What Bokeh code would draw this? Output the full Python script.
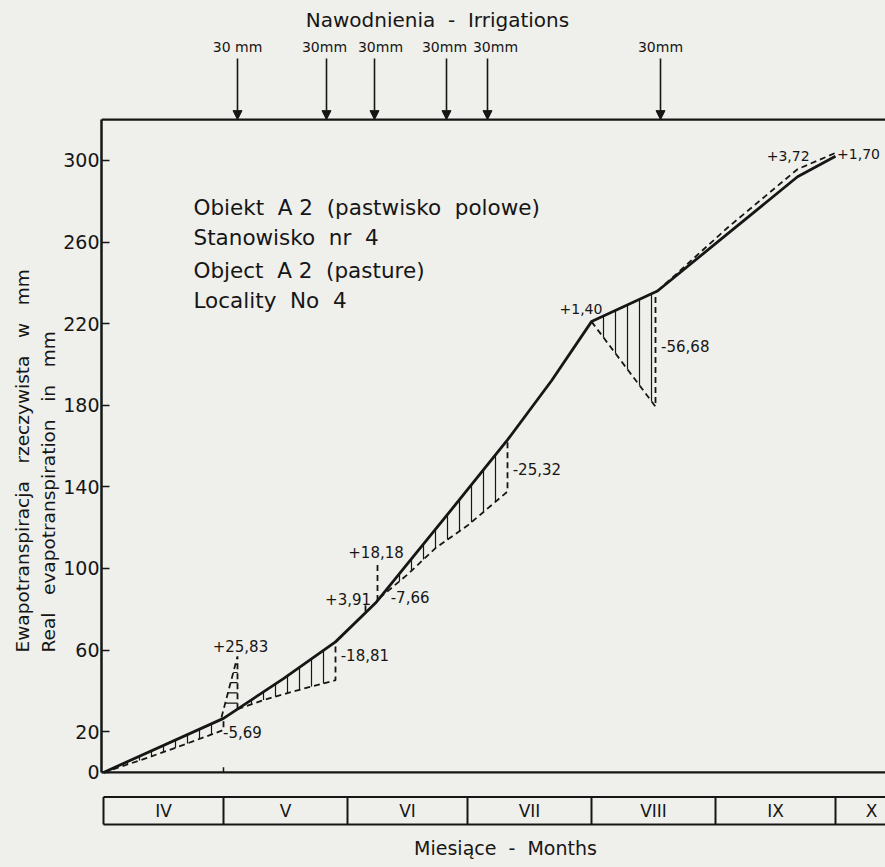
import numpy as np
from bokeh.plotting import figure
from bokeh.models import Range1d, FixedTicker, Label, Arrow, NormalHead, ColumnDataSource, Title
from bokeh.core.properties import value
from bokeh.embed import file_html
from bokeh.resources import INLINE

NB = "\u00a0"  # keeps wide word spacing in svg text

# ---------------- data (x = days since 1 April, y = mm) ----------------
y_ticks = [0, 20, 60, 100, 140, 180, 220, 260, 300]
frame_top = 320

# actual (solid) cumulative evapotranspiration
solid_d = [0, 30, 45, 58, 68, 85, 101, 112, 122, 138.5, 156, 173.5, 183]
solid_v = [0, 26.5, 46, 64, 83, 124, 163, 192, 221, 236, 264, 292, 302]

# dashed reference line, pieces
dash_iv_d = [0, 10, 20, 30]
dash_iv_v = [0, 6.5, 13.5, 20.8]
spike1_d = [29.5, 33.5, 33.5]
spike1_v = [27, 56.9, 31]
dash_v_d = [33.5, 40, 48, 58]
dash_v_v = [31, 35.5, 40, 45.2]
spike2_d = [68.5, 68.5]
spike2_v = [84, 102.2]
spike3_d = [65.5, 65.5]
spike3_v = [79, 83]
dash_vi_d = [69, 76, 83, 91, 101]
dash_vi_v = [85.5, 97, 110, 121, 137.7]
dash_viii_d = [122, 138]
dash_viii_v = [221, 179.3]
dash_ix_d = [138.5, 156, 173.5, 183]
dash_ix_v = [236, 267, 295.7, 303.7]

# difference labels
diff_text = ["-5,69", "+25,83", "-18,81", "+3,91", "+18,18", "-7,66", "-25,32",
             "+1,40", "-56,68", "+3,72", "+1,70"]
diff_d = [29.9, 27.3, 59.3, 55.4, 61.2, 71.8, 102.3, 114.0, 139.4, 165.8, 183.4]
diff_v = [19.6, 61.8, 57.8, 84.8, 108.0, 86.0, 148.5, 227.0, 209.0, 302.0, 303.0]
diff_size = ["15px", "15px", "15px", "15px", "15px", "15px", "15px",
             "14px", "15px", "14px", "14px"]

# irrigations
irr_d = [33.5, 55.75, 67.75, 85.75, 96, 139.25]
irr_text = ["30" + NB + "mm", "30mm", "30mm", "30mm", "30mm", "30mm"]
irr_label_shift = [0, -0.5, 1.5, -0.5, 2.0, 0]

# months
month_names = ["IV", "V", "VI", "VII", "VIII", "IX", "X"]
month_edges = [0, 30, 61, 91, 122, 153, 183]
month_label_d = [15, 45.5, 76, 106.5, 137.5, 168, 192]

S2 = " " + NB
info_lines = ["Obiekt" + S2 + "A 2" + S2 + "(pastwisko" + S2 + "polowe)",
              "Stanowisko" + S2 + "nr" + S2 + "4",
              "Object" + S2 + "A 2" + S2 + "(pasture)",
              "Locality" + S2 + "No" + S2 + "4"]
info_v = [277.0, 262.0, 246.0, 231.4]

# ---------------- style ----------------
BG = "#efefeb"
INK = "#161616"
FONT = "DejaVu Sans"

p = figure(width=885, height=867, x_range=Range1d(-0.5, 195.5), y_range=Range1d(-46.6, 378.4),
           output_backend="svg", toolbar_location=None, x_axis_location=None,
           min_border_left=101, min_border_right=0, min_border_top=0, min_border_bottom=0)
p.background_fill_color = BG
p.border_fill_color = BG
p.outline_line_color = None
p.grid.visible = False

ax = p.yaxis[0]
ax.ticker = FixedTicker(ticks=y_ticks)
ax.bounds = (0, frame_top)
ax.axis_line_color = INK
ax.axis_line_width = 2.5
ax.major_tick_in = 8
ax.major_tick_out = 0
ax.major_tick_line_color = INK
ax.major_tick_line_width = 1.6
ax.minor_tick_line_color = None
ax.major_label_standoff = 2
ax.major_label_text_font = FONT
ax.major_label_text_font_size = "19px"
ax.major_label_text_color = INK

S3 = " " + NB + NB
t2 = Title(text="Real" + S3 + "evapotranspiration" + S3 + "in" + S3 + "mm", align="left", offset=215,
           standoff=3, text_font=FONT, text_font_size="18.5px", text_font_style="normal", text_color=INK)
t1 = Title(text="Ewapotranspiracja" + S3 + "rzeczywista" + S3 + "w" + S3 + "mm", align="left", offset=215,
           standoff=4, text_font=FONT, text_font_size="18.5px", text_font_style="normal", text_color=INK)
p.add_layout(t2, "left")
p.add_layout(t1, "left")

# frame lines (top and bottom)
p.segment(x0=[-0.5, -0.5], y0=[frame_top, 0], x1=[195.5, 195.5], y1=[frame_top, 0],
          line_color=INK, line_width=2.3)
p.segment(x0=[month_edges[1]], y0=[0], x1=[month_edges[1]], y1=[2.5], line_color=INK, line_width=1.5)

def hatch(ds, lo_d, lo_v, hi_d, hi_v):
    ds = np.asarray(ds, dtype=float)
    y0 = np.interp(ds, lo_d, lo_v)
    y1 = np.interp(ds, hi_d, hi_v)
    p.segment(x0=ds, y0=y0, x1=ds, y1=y1, line_color=INK, line_width=1.2)

hatch(np.arange(3, 30, 3), dash_iv_d, dash_iv_v, solid_d, solid_v)
hatch(np.arange(37, 58, 3), dash_v_d, dash_v_v, solid_d, solid_v)
hatch(np.arange(74, 101, 3), dash_vi_d, dash_vi_v, solid_d, solid_v)
hatch(np.arange(125, 138, 3), dash_viii_d, dash_viii_v, solid_d, solid_v)

rung_v = np.array([34, 39, 44, 49, 53])
rung_x0 = np.interp(rung_v, [spike1_v[0], spike1_v[1]], [spike1_d[0], spike1_d[1]])
p.segment(x0=rung_x0, y0=rung_v, x1=[spike1_d[2]] * len(rung_v), y1=rung_v, line_color=INK, line_width=1.2)

dash_kw = dict(line_color=INK, line_width=1.8, line_dash="6 4")
p.line(dash_iv_d + [dash_iv_d[-1]], dash_iv_v + [np.interp(30, solid_d, solid_v)], **dash_kw)
p.line(spike1_d, spike1_v, **dash_kw)
p.line(dash_v_d + [dash_v_d[-1]], dash_v_v + [np.interp(58, solid_d, solid_v)], **dash_kw)
p.line(spike2_d, spike2_v, **dash_kw)
p.line(spike3_d, spike3_v, **dash_kw)
p.line(dash_vi_d + [dash_vi_d[-1]], dash_vi_v + [np.interp(101, solid_d, solid_v)], **dash_kw)
p.line(dash_viii_d + [dash_viii_d[-1]], dash_viii_v + [np.interp(138, solid_d, solid_v)], **dash_kw)
p.line(dash_ix_d, dash_ix_v, **dash_kw)

p.line(solid_d, solid_v, line_color=INK, line_width=2.8)

diff_src = ColumnDataSource(dict(x=diff_d, y=diff_v, t=diff_text, s=diff_size))
p.text(x="x", y="y", text="t", text_font_size="s", source=diff_src, text_font=value(FONT),
       text_color=INK, text_align="left", text_baseline="middle")

p.text(x=[22.5] * 4, y=info_v, text=info_lines, text_font=value(FONT), text_font_size="21.5px",
       text_color=INK, text_align="left", text_baseline="middle")

arr_src = ColumnDataSource(dict(x0=irr_d, y0=[350.0] * len(irr_d), x1=irr_d, y1=[frame_top] * len(irr_d)))
p.add_layout(Arrow(end=NormalHead(size=9, fill_color=INK, line_color=INK), x_start="x0", y_start="y0",
                   x_end="x1", y_end="y1", source=arr_src, line_color=INK, line_width=1.6))
p.text(x=[d + s for d, s in zip(irr_d, irr_label_shift)], y=[355.4] * len(irr_d), text=irr_text,
       text_font=value(FONT), text_font_size="14px", text_color=INK,
       text_align="center", text_baseline="middle")
p.add_layout(Label(x=83.5, y=368.6, text="Nawodnienia" + S2 + "-" + S2 + "Irrigations", text_font=FONT,
                   text_font_size="20px", text_color=INK, text_align="center", text_baseline="middle"))

box_top, box_bot = -12.0, -25.5
p.segment(x0=[0, 0], y0=[box_top, box_bot], x1=[195.5, 195.5], y1=[box_top, box_bot],
          line_color=INK, line_width=2.0)
p.segment(x0=month_edges, y0=[box_top] * len(month_edges), x1=month_edges, y1=[box_bot] * len(month_edges),
          line_color=INK, line_width=2.0)
p.text(x=month_label_d, y=[(box_top + box_bot) / 2] * len(month_names), text=month_names,
       text_font=value(FONT), text_font_size="17px", text_color=INK,
       text_align="center", text_baseline="middle")
p.add_layout(Label(x=100.5, y=-37.0, text="Miesiące" + S2 + "-" + S2 + "Months", text_font=FONT,
                   text_font_size="19px", text_color=INK, text_align="center", text_baseline="middle"))

html = file_html(p, INLINE)
html = html.replace("</head>", "<style>html,body{margin:0;padding:0;overflow:hidden;background-color:%s;}</style></head>" % BG, 1)
open("out.html", "w").write(html)
